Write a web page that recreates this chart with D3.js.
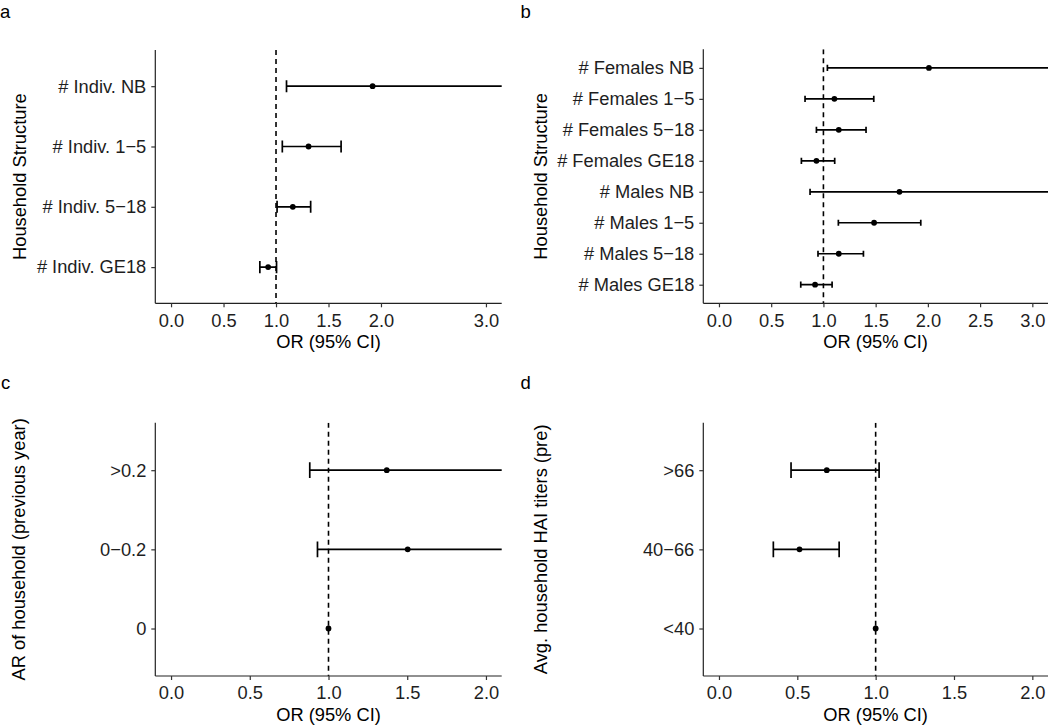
<!DOCTYPE html>
<html>
<head>
<meta charset="utf-8">
<script src="https://cdn.jsdelivr.net/npm/d3@7"></script>
<style>
  html, body { margin: 0; padding: 0; background: #fff; }
  svg { display: block; font-family: "Liberation Sans", Arial, Helvetica, sans-serif; }
</style>
</head>
<body>
<svg id="chart" width="1050" height="725"></svg>
<script>
// ---------- Data ----------
// Panel a
const catsA  = ["# Indiv. NB", "# Indiv. 1\u22125", "# Indiv. 5\u221218", "# Indiv. GE18"];
const orA    = [1.92, 1.31, 1.16, 0.925];
const lowA   = [1.10, 1.06, 1.01, 0.846];
const highA  = [3.60, 1.62, 1.33, 1.005];

// Panel b
const catsB  = ["# Females NB", "# Females 1\u22125", "# Females 5\u221218", "# Females GE18",
                "# Males NB", "# Males 1\u22125", "# Males 5\u221218", "# Males GE18"];
const orB    = [2.01, 1.105, 1.147, 0.933, 1.728, 1.485, 1.147, 0.920];
const lowB   = [1.038, 0.824, 0.933, 0.789, 0.872, 1.143, 0.948, 0.783];
const highB  = [3.90, 1.482, 1.408, 1.108, 3.50, 1.932, 1.383, 1.083];

// Panel c
const catsC  = [">0.2", "0\u22120.2", "0"];
const orC    = [1.37, 1.503, 1.0];
const lowC   = [0.881, 0.930, null];
const highC  = [2.40, 2.50, null];

// Panel d
const catsD  = [">66", "40\u221266", "<40"];
const orD    = [0.688, 0.514, 1.0];
const lowD   = [0.460, 0.347, null];
const highD  = [1.022, 0.767, null];

// Axis ticks
const ticksTop    = [0, 0.5, 1, 1.5, 2, 3];
const ticksTopB   = [0, 0.5, 1, 1.5, 2, 2.5, 3];
const ticksBottom = [0, 0.5, 1, 1.5, 2];

const panelLetters = ["a", "b", "c", "d"];
const yTitles = ["Household Structure", "Household Structure",
                 "AR of household (previous year)", "Avg. household HAI titers (pre)"];
const xTitle = "OR (95% CI)";

// ---------- Layout ----------
const svg = d3.select("#chart");
const FS = 18.3;

const panels = [
  { letter: panelLetters[0], lx: 0,   ly: 17.5,  x0: 155.3, x1: 501.7, y0: 50,    y1: 303.3, dom: [-0.15, 3.15], ticks: ticksTop,
    cats: catsA, or: orA, lo: lowA, hi: highA, yTitle: yTitles[0], ytx: 26 },
  { letter: panelLetters[1], lx: 520.5, ly: 17.5,  x0: 703.3, x1: 1048,  y0: 49.3,  y1: 303.3, dom: [-0.15, 3.15], ticks: ticksTopB,
    cats: catsB, or: orB, lo: lowB, hi: highB, yTitle: yTitles[1], ytx: 546.5 },
  { letter: panelLetters[2], lx: 1,   ly: 389, x0: 155.3, x1: 501.7, y0: 422.7, y1: 676,   dom: [-0.1, 2.1], ticks: ticksBottom,
    cats: catsC, or: orC, lo: lowC, hi: highC, yTitle: yTitles[2], ytx: 25 },
  { letter: panelLetters[3], lx: 520.5, ly: 389, x0: 703.3, x1: 1048,  y0: 422.7, y1: 676,   dom: [-0.1, 2.1], ticks: ticksBottom,
    cats: catsD, or: orD, lo: lowD, hi: highD, yTitle: yTitles[3], ytx: 546.5 }
];

panels.forEach((p, i) => {
  const x = d3.scaleLinear().domain(p.dom).range([p.x0, p.x1]);
  const y = d3.scalePoint().domain(p.cats).range([p.y0, p.y1]).padding(0.6);
  const step = y.step();
  const g = svg.append("g");

  const cid = "clip" + i;
  svg.append("clipPath").attr("id", cid)
    .append("rect").attr("x", p.x0).attr("y", p.y0)
    .attr("width", p.x1 - p.x0).attr("height", p.y1 - p.y0);

  const plot = g.append("g").attr("clip-path", `url(#${cid})`);

  // reference dashed line at OR = 1
  plot.append("line")
    .attr("x1", x(1)).attr("x2", x(1))
    .attr("y1", p.y0).attr("y2", p.y1)
    .attr("stroke", "#000").attr("stroke-width", 1.6)
    .attr("stroke-dasharray", "5,4");

  const rows = p.cats.map((c, k) => ({ c, or: p.or[k], lo: p.lo[k], hi: p.hi[k] }));
  const cap = step * 0.1;

  const eb = plot.selectAll("g.eb").data(rows.filter(d => d.lo != null)).enter().append("g")
    .attr("stroke", "#000").attr("stroke-width", 1.7).attr("fill", "none");
  eb.append("line").attr("x1", d => x(d.lo)).attr("x2", d => x(d.hi))
    .attr("y1", d => y(d.c)).attr("y2", d => y(d.c));
  eb.append("line").attr("x1", d => x(d.lo)).attr("x2", d => x(d.lo))
    .attr("y1", d => y(d.c) - cap).attr("y2", d => y(d.c) + cap);
  eb.append("line").attr("x1", d => x(d.hi)).attr("x2", d => x(d.hi))
    .attr("y1", d => y(d.c) - cap).attr("y2", d => y(d.c) + cap);

  plot.selectAll("circle.pt").data(rows).enter().append("circle")
    .attr("cx", d => x(d.or)).attr("cy", d => y(d.c)).attr("r", 2.9).attr("fill", "#000");

  // axes
  const xa = g.append("g").attr("transform", `translate(0,${p.y1})`)
    .call(d3.axisBottom(x).tickValues(p.ticks).tickFormat(d3.format(".1f")).tickSizeOuter(0).tickSize(4).tickPadding(6.5));
  const ya = g.append("g").attr("transform", `translate(${p.x0},0)`)
    .call(d3.axisLeft(y).tickSizeOuter(0).tickSize(4).tickPadding(5));
  [xa, ya].forEach(a => {
    a.select(".domain").attr("stroke", "#222").attr("stroke-width", 1.2);
    a.selectAll(".tick line").attr("stroke", "#333").attr("stroke-width", 1.2);
    a.selectAll(".tick text").attr("fill", "#1e1e1e").attr("font-size", FS)
      .attr("font-family", "'Liberation Sans', Arial, sans-serif");
  });
  ya.select(".domain").attr("d", `M0,${p.y0}V${p.y1}`);
  xa.select(".domain").attr("d", `M${p.x0},0H${p.x1}`);

  // titles
  g.append("text").attr("x", (p.x0 + p.x1) / 2).attr("y", p.y1 + 45)
    .attr("text-anchor", "middle").attr("font-size", FS).attr("fill", "#000").text(xTitle);
  g.append("text").attr("transform", `translate(${p.ytx},${(p.y0 + p.y1) / 2}) rotate(-90)`)
    .attr("text-anchor", "middle").attr("font-size", FS).attr("fill", "#000").text(p.yTitle);

  // panel letter
  svg.append("text").attr("x", p.lx).attr("y", p.ly).attr("font-size", 18.5)
    .attr("fill", "#000").text(p.letter);
});
</script>
</body>
</html>
